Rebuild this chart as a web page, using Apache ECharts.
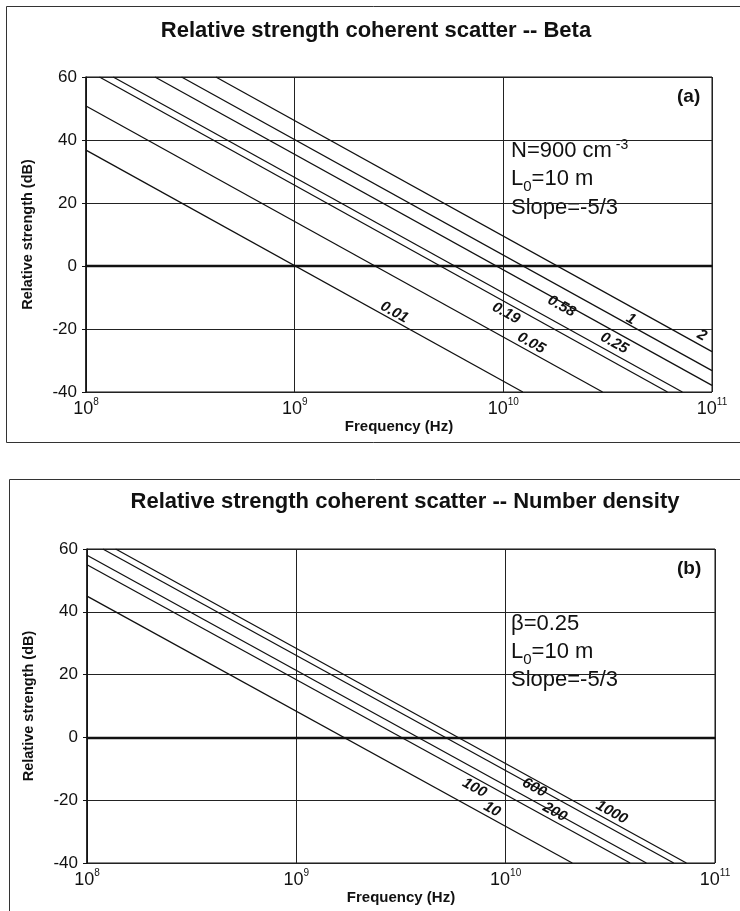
<!DOCTYPE html>
<html>
<head>
<meta charset="utf-8">
<script src="https://cdn.jsdelivr.net/npm/echarts@6/dist/echarts.min.js"></script>
<style>
  html, body { margin: 0; padding: 0; background: #fff; }
  #chart { width: 740px; height: 911px; }
</style>
</head>
<body>
<div id="chart"></div>
<script>
// ---- Panel (a): coherent scatter strength vs frequency for several beta values ----
const betaNames = ['0.01', '0.05', '0.19', '0.25', '0.58', '1', '2'];
// visible end points of each curve: [frequency (Hz), relative strength (dB)]
const betaStart = [[1e8, 36.8], [1e8, 50.8], [1.16e8, 60], [1.35e8, 60], [2.14e8, 60], [2.87e8, 60], [4.19e8, 60]];
const betaEnd   = [[1.24e10, -40], [2.99e10, -40], [6.12e10, -40], [7.21e10, -40], [1e11, -37.9], [1e11, -33.2], [1e11, -27.2]];
// where each curve's name is written: [frequency (Hz), dB]
const betaLabelAt = [[3.0e9, -14.7], [1.36e10, -24.5], [1.03e10, -15.0], [3.40e10, -24.5], [1.90e10, -12.8], [4.09e10, -16.9], [8.95e10, -22.0]];

// ---- Panel (b): coherent scatter strength vs frequency for several number densities ----
const densityNames = ['10', '100', '200', '600', '1000'];
const densityStart = [[1e8, 45], [1e8, 55], [1e8, 58], [1.19e8, 60], [1.37e8, 60]];
const densityEnd   = [[2.08e10, -40], [3.93e10, -40], [4.70e10, -40], [6.35e10, -40], [7.30e10, -40]];
const densityLabelAt = [[8.6e9, -22.9], [7.1e9, -16.1], [1.72e10, -23.8], [1.37e10, -16.0], [3.21e10, -23.9]];

// axis ranges and ticks
const freqMin = 1e8, freqMax = 1e11;
const dbMin = -40, dbMax = 60, dbStep = 20;

const FONT = '"Liberation Sans", Arial, Helvetica, sans-serif';
const INK = '#111';

function powerLabel(v) {
  const e = Math.round(Math.log10(v));
  return '{b|10}{s|' + e + '}';
}

function makeXAxis(gridIndex) {
  return {
    gridIndex: gridIndex,
    type: 'log',
    logBase: 10,
    min: freqMin,
    max: freqMax,
    name: 'Frequency (Hz)',
    nameLocation: 'middle',
    nameGap: 27,
    nameTextStyle: { fontFamily: FONT, fontWeight: 'bold', fontSize: 15, color: INK },
    axisLine: { show: true, lineStyle: { color: INK, width: 1.5 } },
    axisTick: { show: false },
    minorTick: { show: false },
    splitLine: { show: true, lineStyle: { color: '#222', width: 1 } },
    axisLabel: {
      margin: 5,
      color: INK,
      formatter: powerLabel,
      rich: {
        b: { fontFamily: FONT, fontSize: 18, color: INK, lineHeight: 21, verticalAlign: 'bottom' },
        s: { fontFamily: FONT, fontSize: 10, color: INK, lineHeight: 21, verticalAlign: 'top' }
      }
    }
  };
}

function makeYAxis(gridIndex) {
  return {
    gridIndex: gridIndex,
    type: 'value',
    min: dbMin,
    max: dbMax,
    interval: dbStep,
    name: 'Relative strength (dB)',
    nameLocation: 'middle',
    nameGap: 51,
    nameTextStyle: { fontFamily: FONT, fontWeight: 'bold', fontSize: 14.5, color: INK },
    axisLine: { show: true, lineStyle: { color: INK, width: 1.5 } },
    axisTick: { show: true, length: 4, lineStyle: { color: INK } },
    splitLine: { show: true, lineStyle: { color: '#222', width: 1 } },
    axisLabel: { fontFamily: FONT, fontSize: 17, color: INK, margin: 9 }
  };
}

function makeSeries(names, starts, ends, labelsAt, axisIndex) {
  return names.map(function (name, i) {
    const s = {
      name: name,
      type: 'line',
      xAxisIndex: axisIndex,
      yAxisIndex: axisIndex,
      data: [starts[i], ends[i]],
      showSymbol: false,
      clip: true,
      silent: true,
      lineStyle: { color: INK, width: 1.3 },
      markPoint: {
        symbol: 'circle',
        symbolSize: 0,
        silent: true,
        data: [{ coord: labelsAt[i], value: name }],
        label: {
          show: true,
          position: 'inside',
          formatter: name,
          rotate: -29,
          fontFamily: FONT,
          fontStyle: 'italic',
          fontWeight: 'bold',
          fontSize: 15,
          color: INK
        }
      }
    };
    if (i === 0) {
      // heavy 0 dB reference line
      s.markLine = {
        silent: true,
        symbol: ['none', 'none'],
        label: { show: false },
        lineStyle: { color: INK, width: 2.4, type: 'solid' },
        data: [{ yAxis: 0 }]
      };
    }
    return s;
  });
}

const textBase = { fontFamily: FONT, fontSize: 22, fill: INK };
const boxRich = {
  sup: { fontFamily: FONT, fontSize: 14, fill: INK, verticalAlign: 'top', lineHeight: 26 },
  sub: { fontFamily: FONT, fontSize: 15, fill: INK, verticalAlign: 'bottom', lineHeight: 30 },
  n: { fontFamily: FONT, fontSize: 22, fill: INK, lineHeight: 26 }
};

const chart = echarts.init(document.getElementById('chart'), null, { renderer: 'canvas' });
chart.setOption({
  animation: false,
  backgroundColor: '#fff',
  title: [
    {
      text: 'Relative strength coherent scatter -- Beta',
      left: 371, top: 15, textAlign: 'center',
      textStyle: { fontFamily: FONT, fontWeight: 'bold', fontSize: 22, color: INK }
    },
    {
      text: 'Relative strength coherent scatter -- Number density',
      left: 400, top: 486, textAlign: 'center',
      textStyle: { fontFamily: FONT, fontWeight: 'bold', fontSize: 22, color: INK }
    }
  ],
  grid: [
    { left: 86, right: 28, top: 77, bottom: 519, show: true, borderColor: INK, borderWidth: 1 },
    { left: 87, right: 25, top: 549, bottom: 48, show: true, borderColor: INK, borderWidth: 1 }
  ],
  xAxis: [makeXAxis(0), makeXAxis(1)],
  yAxis: [makeYAxis(0), makeYAxis(1)],
  series: makeSeries(betaNames, betaStart, betaEnd, betaLabelAt, 0)
    .concat(makeSeries(densityNames, densityStart, densityEnd, densityLabelAt, 1)),
  graphic: [
    // panel frames
    { type: 'rect', left: 4, top: 4, silent: true, shape: { width: 745, height: 436 },
      style: { fill: 'none', stroke: '#333', lineWidth: 1 } },
    { type: 'rect', left: 7, top: 477, silent: true, shape: { width: 745, height: 445 },
      style: { fill: 'none', stroke: '#333', lineWidth: 1 } },
    // panel tags
    { type: 'text', left: 677, top: 87, silent: true,
      style: { text: '(a)', fontFamily: FONT, fontWeight: 'bold', fontSize: 19, fill: INK } },
    { type: 'text', left: 677, top: 559, silent: true,
      style: { text: '(b)', fontFamily: FONT, fontWeight: 'bold', fontSize: 19, fill: INK } },
    // parameter notes, panel (a)
    { type: 'text', left: 511, top: 138, silent: true,
      style: { text: '{n|N=900 cm}{sup| -3}', rich: boxRich, fill: INK } },
    { type: 'text', left: 511, top: 168, silent: true,
      style: { text: '{n|L}{sub|0}{n|=10 m}', rich: boxRich, fill: INK } },
    { type: 'text', left: 511, top: 197, silent: true,
      style: Object.assign({ text: 'Slope=-5/3' }, textBase) },
    // parameter notes, panel (b)
    { type: 'text', left: 511, top: 613, silent: true,
      style: Object.assign({ text: 'β=0.25' }, textBase) },
    { type: 'text', left: 511, top: 641, silent: true,
      style: { text: '{n|L}{sub|0}{n|=10 m}', rich: boxRich, fill: INK } },
    { type: 'text', left: 511, top: 669, silent: true,
      style: Object.assign({ text: 'Slope=-5/3' }, textBase) }
  ]
});
</script>
</body>
</html>
